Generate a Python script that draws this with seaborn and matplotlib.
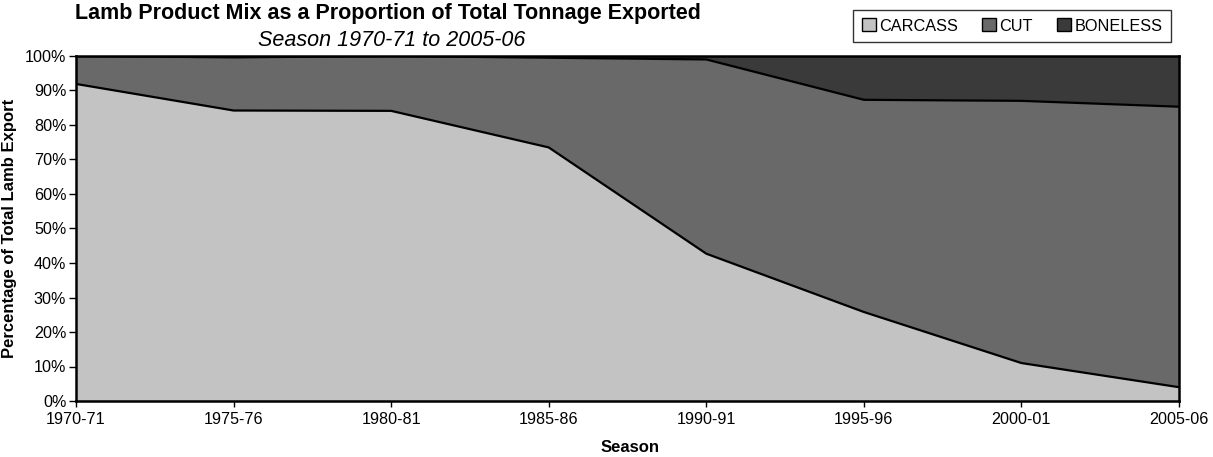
import matplotlib.pyplot as plt
from matplotlib.patches import Patch
from matplotlib.ticker import FuncFormatter
import pandas as pd
import seaborn as sns

seasons = ['1970-71', '1975-76', '1980-81', '1985-86', '1990-91', '1995-96', '2000-01', '2005-06']
carcass = [91.9, 84.2, 84.1, 73.5, 42.7, 25.8, 11.0, 4.0]
cut = [8.1, 15.4, 15.9, 26.0, 56.3, 61.5, 76.0, 81.3]
boneless = [0.0, 0.4, 0.0, 0.5, 1.0, 12.7, 13.0, 14.7]

labels = ['CARCASS', 'CUT', 'BONELESS']
colors = ['#c3c3c3', '#696969', '#3a3a3a']

sns.set_theme(style='white')
plt.rcParams['font.family'] = ['Liberation Sans', 'DejaVu Sans']
plt.rcParams['text.color'] = 'black'
plt.rcParams['axes.labelcolor'] = 'black'
plt.rcParams['xtick.color'] = 'black'
plt.rcParams['ytick.color'] = 'black'

df = pd.DataFrame({'season': seasons, 'CARCASS': carcass, 'CUT': cut, 'BONELESS': boneless})
df['x'] = range(len(df))
# cumulative tops for the stacked areas
df['top_carcass'] = df['CARCASS']
df['top_cut'] = df['CARCASS'] + df['CUT']
df['top_boneless'] = df['top_cut'] + df['BONELESS']

fig = plt.figure(figsize=(12.13, 4.57), dpi=100)
ax = fig.add_axes([76 / 1213, 56 / 457, 1103 / 1213, 345 / 457])

ax.stackplot(df['x'], df['CARCASS'], df['CUT'], df['BONELESS'], colors=colors, linewidth=0)

# boundary lines between the areas
for col in ['top_carcass', 'top_cut', 'top_boneless']:
    sns.lineplot(data=df, x='x', y=col, ax=ax, color='black', linewidth=1.6)

ax.set_xlim(0, len(seasons) - 1)
ax.set_ylim(0, 100)
ax.set_xticks(df['x'])
ax.set_xticklabels(seasons, fontsize=11.6)
ax.set_yticks(range(0, 101, 10))
ax.yaxis.set_major_formatter(FuncFormatter(lambda v, p: f'{int(v)}%'))
ax.tick_params(axis='y', labelsize=11.6, length=5, width=1, direction='out', pad=2, left=True)
ax.tick_params(axis='x', length=4, width=1, direction='out', pad=4, bottom=True)

for s in ax.spines.values():
    s.set_color('black')
    s.set_linewidth(1.8)

ax.set_xlabel('')
ax.set_ylabel('Percentage of Total Lamb Export', fontsize=12, fontweight='bold', labelpad=6)
fig.text(630 / 1213, 1 - 448 / 457, 'Season', fontsize=12, fontweight='bold', ha='center', va='center')

fig.text(388 / 1213, 1 - 14 / 457, 'Lamb Product Mix as a Proportion of Total Tonnage Exported',
         fontsize=15.5, fontweight='bold', ha='center', va='center')
fig.text(392 / 1213, 1 - 40 / 457, 'Season 1970-71 to 2005-06',
         fontsize=15.5, fontstyle='italic', ha='center', va='center')

handles = [Patch(facecolor=c, edgecolor='black', linewidth=1) for c in colors]
leg = fig.legend(handles, labels, loc='center', bbox_to_anchor=(1012 / 1213, 1 - 26 / 457), ncol=3,
                 fontsize=11.7, frameon=True, fancybox=False, handlelength=0.85, handleheight=0.85,
                 handletextpad=0.2, columnspacing=1.5, borderpad=0.55)
leg.get_frame().set_edgecolor('black')
leg.get_frame().set_linewidth(1)

fig.savefig('out.png', dpi=100)
